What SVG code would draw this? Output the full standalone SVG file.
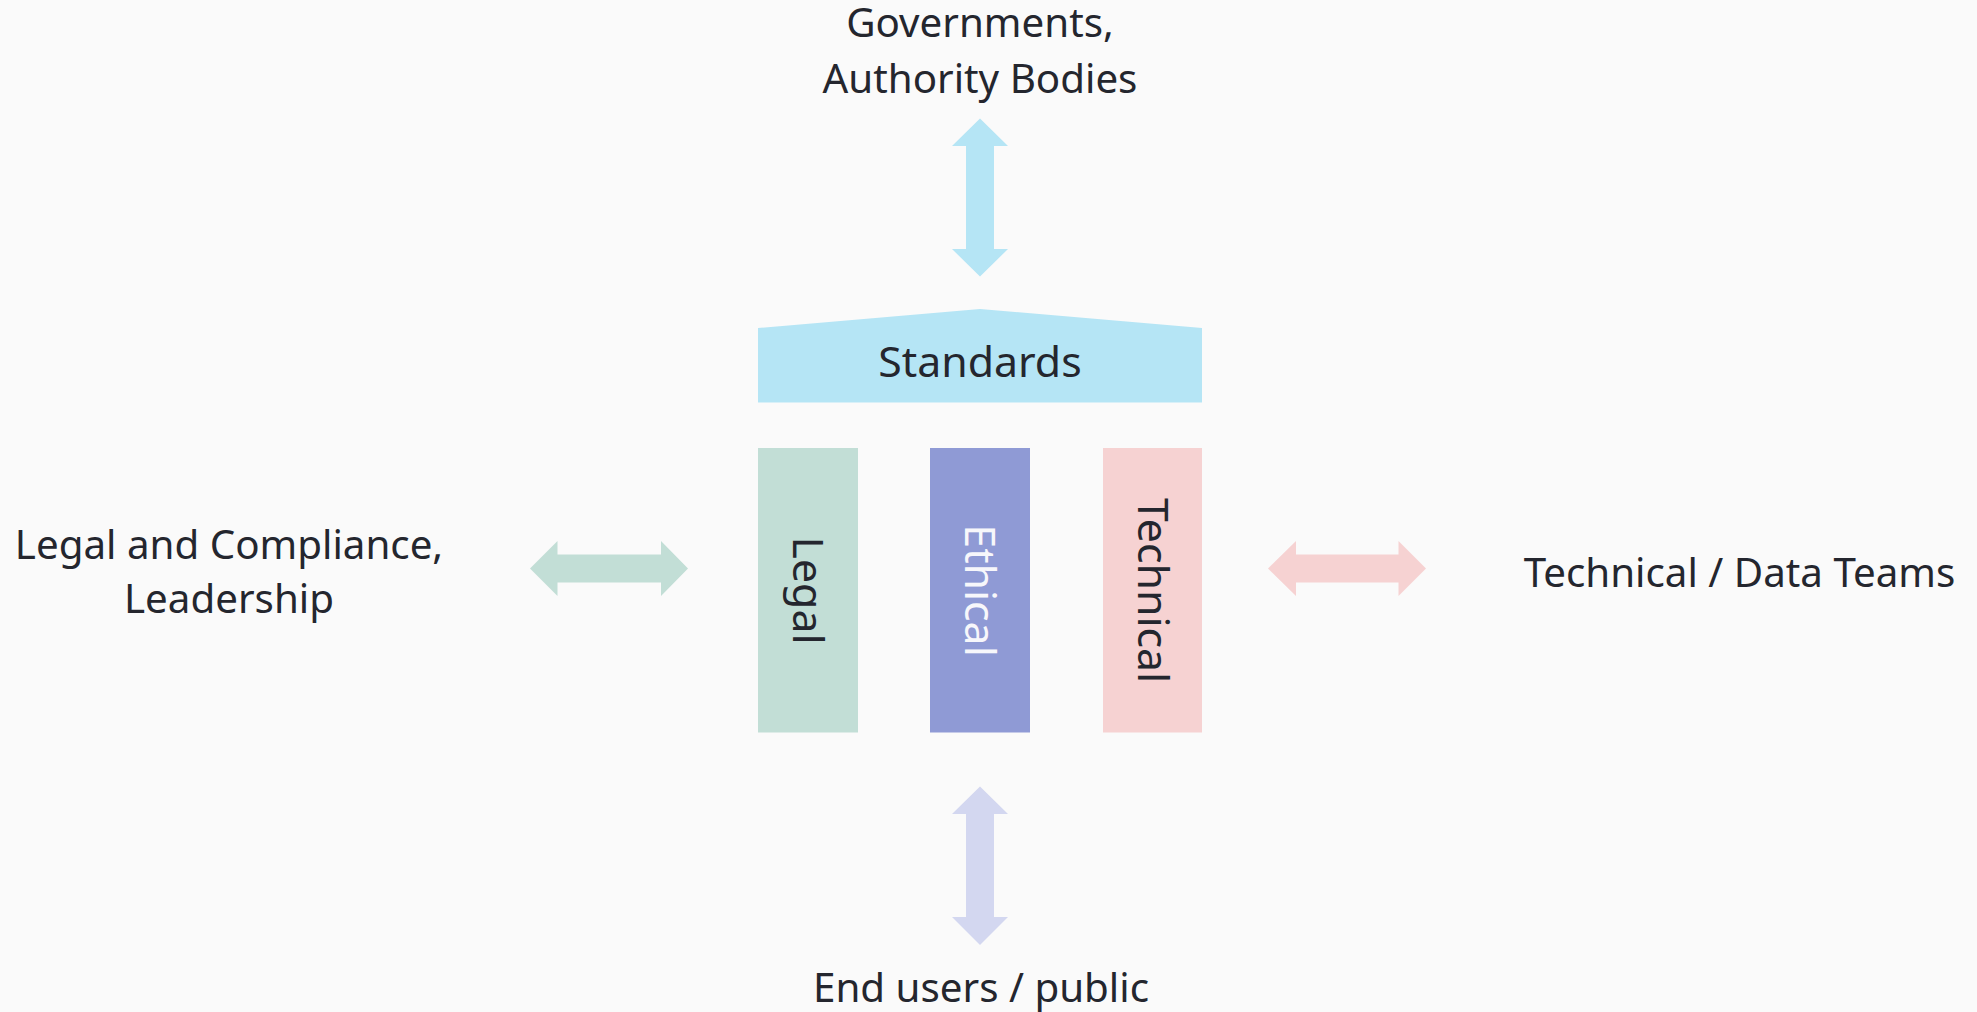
<svg xmlns="http://www.w3.org/2000/svg" width="1977" height="1012" viewBox="0 0 1977 1012">
<style>
.lbl{font-family:"Noto Sans","Open Sans","Liberation Sans",sans-serif;font-size:40.3px;fill:#24262e;text-anchor:middle}
.big{font-family:"Noto Sans","Open Sans","Liberation Sans",sans-serif;font-size:42.8px;fill:#24262e;text-anchor:middle}
</style>
<rect x="0" y="0" width="1977" height="1012" fill="#fafafa"/>
<g id="connectors">
<polygon fill="#b5e5f5" points="980,118.5 1008,146 994,146 994,249 1008,249 980,276.5 952,249 966,249 966,146 952,146"/>
<polygon fill="#d3d7f0" points="980,786.5 1008,814 994,814 994,917 1008,917 980,945 952,917 966,917 966,814 952,814"/>
<polygon fill="#c2ded6" points="530,568.5 557.5,541 557.5,554.5 661,554.5 661,541 688,568.5 661,596 661,582.5 557.5,582.5 557.5,596"/>
<polygon fill="#f6d2d2" points="1268,568.5 1296,541 1296,554.5 1398.5,554.5 1398.5,541 1426,568.5 1398.5,596 1398.5,582.5 1296,582.5 1296,596"/>
</g>
<g id="governments">
<text class="lbl" x="980" y="37.3">Governments,</text>
<text class="lbl" x="980" y="92.7">Authority Bodies</text>
</g>
<g id="standards">
<polygon fill="#b5e5f5" points="758,328 980,309 1202,328 1202,402.5 758,402.5"/>
<text class="big" x="980" y="376.7">Standards</text>
</g>
<g id="legal">
<rect x="758" y="448" width="100" height="284.5" fill="#c2ded6"/>
<text class="big" transform="translate(808,590.5) rotate(90)" x="0" y="15">Legal</text>
</g>
<g id="ethical">
<rect x="930" y="448" width="100" height="284.5" fill="#8f9ad5"/>
<text class="big" transform="translate(980,590.5) rotate(90)" x="0" y="15" style="fill:#f7f7fb">Ethical</text>
</g>
<g id="technical">
<rect x="1103" y="448" width="99" height="284.5" fill="#f6d2d2"/>
<text class="big" transform="translate(1152.5,590.5) rotate(90)" x="0" y="15">Technical</text>
</g>
<g id="legal-compliance">
<text class="lbl" x="229" y="559.3">Legal and Compliance,</text>
<text class="lbl" x="229" y="613.3">Leadership</text>
</g>
<g id="technical-teams">
<text class="lbl" x="1739.5" y="587.3">Technical / Data Teams</text>
</g>
<g id="end-users">
<text class="lbl" x="981" y="1001.7">End users / public</text>
</g>
</svg>
